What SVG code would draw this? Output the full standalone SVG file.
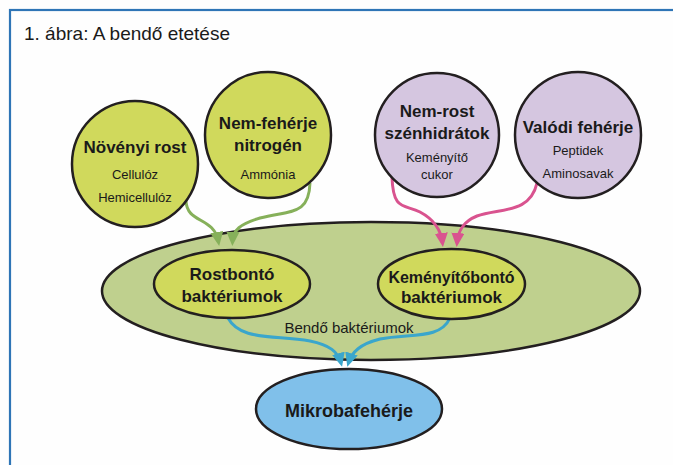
<svg xmlns="http://www.w3.org/2000/svg" width="673" height="465" viewBox="0 0 673 465">
<style>
.node{stroke:#231f20;stroke-width:2.5}
.g{fill:#d0d95c}
.p{fill:#d5c6e0}
.big{fill:#bfd08e}
.b{fill:#80c0ea}
text{font-family:"Liberation Sans",Arial,sans-serif;fill:#1a1a1a;text-anchor:middle}
.t{font-weight:bold;font-size:17px}
.s{font-size:13px}
.conn path{fill:none;stroke-width:3}
</style>
<defs>
<marker id="ag" markerUnits="userSpaceOnUse" markerWidth="15" markerHeight="13" refX="10" refY="6.5" orient="auto"><path d="M0,0 L14,6.5 L0,13 z" fill="#86b05a"/></marker>
<marker id="ap" markerUnits="userSpaceOnUse" markerWidth="15" markerHeight="13" refX="10" refY="6.5" orient="auto"><path d="M0,0 L14,6.5 L0,13 z" fill="#d9538f"/></marker>
<marker id="ab" markerUnits="userSpaceOnUse" markerWidth="15" markerHeight="13" refX="10" refY="6.5" orient="auto"><path d="M0,0 L14,6.5 L0,13 z" fill="#3aa6cc"/></marker>
</defs>
<rect x="0" y="0" width="673" height="465" fill="#fefefe"/>
<rect x="10" y="10" width="700" height="500" fill="none" stroke="#2e75b6" stroke-width="2.2"/>
<text x="24" y="40" style="text-anchor:start;font-size:19px">1. ábra: A bendő etetése</text>

<g id="rumen">
<ellipse class="node big" cx="371" cy="291" rx="269" ry="69"/>
<text x="349" y="333" style="font-size:15px">Bendő baktériumok</text>
</g>

<g class="conn">
<path d="M186,201 C187,224 214,216 218.5,242" stroke="#86b05a" marker-end="url(#ag)"/>
<path d="M310,183 C309,216 290,210 260,218 C240,224 233,230 232.5,242" stroke="#86b05a" marker-end="url(#ag)"/>
<path d="M392,177 C393,212 405,204 420,212 C435,220 441,230 442.5,243" stroke="#d9538f" marker-end="url(#ap)"/>
<path d="M537,183 C530,214 500,208 477,216 C462,222 458,232 457,243" stroke="#d9538f" marker-end="url(#ap)"/>
<path d="M228,318 C240,340 270,335 310,341 C330,345 338,352 341,363" stroke="#3aa6cc" marker-end="url(#ab)"/>
<path d="M450,318 C440,340 410,333 380,339 C360,344 352,352 348.5,363" stroke="#3aa6cc" marker-end="url(#ab)"/>
</g>

<g id="novenyi-rost">
<circle class="node g" cx="135" cy="164" r="63"/>
<text class="t" x="135" y="153">Növényi rost</text>
<text class="s" x="135" y="179">Cellulóz</text>
<text class="s" x="135" y="202">Hemicellulóz</text>
</g>
<g id="nem-feherje-nitrogen">
<circle class="node g" cx="268" cy="135" r="63"/>
<text class="t" x="268" y="129">Nem-fehérje</text>
<text class="t" x="268" y="151">nitrogén</text>
<text class="s" x="268" y="179">Ammónia</text>
</g>
<g id="nem-rost">
<circle class="node p" cx="437" cy="135" r="62"/>
<text class="t" x="437" y="117">Nem-rost</text>
<text class="t" x="437" y="139">szénhidrátok</text>
<text class="s" x="437" y="162">Keményítő</text>
<text class="s" x="437" y="179">cukor</text>
</g>
<g id="valodi-feherje">
<circle class="node p" cx="578" cy="135" r="63"/>
<text class="t" x="578" y="133">Valódi fehérje</text>
<text class="s" x="578" y="155">Peptidek</text>
<text class="s" x="578" y="178">Aminosavak</text>
</g>
<g id="rostbonto">
<ellipse class="node g" cx="232" cy="284" rx="78" ry="34"/>
<text class="t" x="232" y="280">Rostbontó</text>
<text class="t" x="232" y="302">baktériumok</text>
</g>
<g id="kemenyitobonto">
<ellipse class="node g" cx="451.5" cy="284" rx="73.5" ry="35"/>
<text class="t" x="451.5" y="283" style="font-size:16px">Keményítőbontó</text>
<text class="t" x="451.5" y="303">baktériumok</text>
</g>
<g id="mikrobafeherje">
<ellipse class="node b" cx="349" cy="409" rx="93" ry="40"/>
<text class="t" x="349" y="417" style="font-size:18px">Mikrobafehérje</text>
</g>
</svg>
